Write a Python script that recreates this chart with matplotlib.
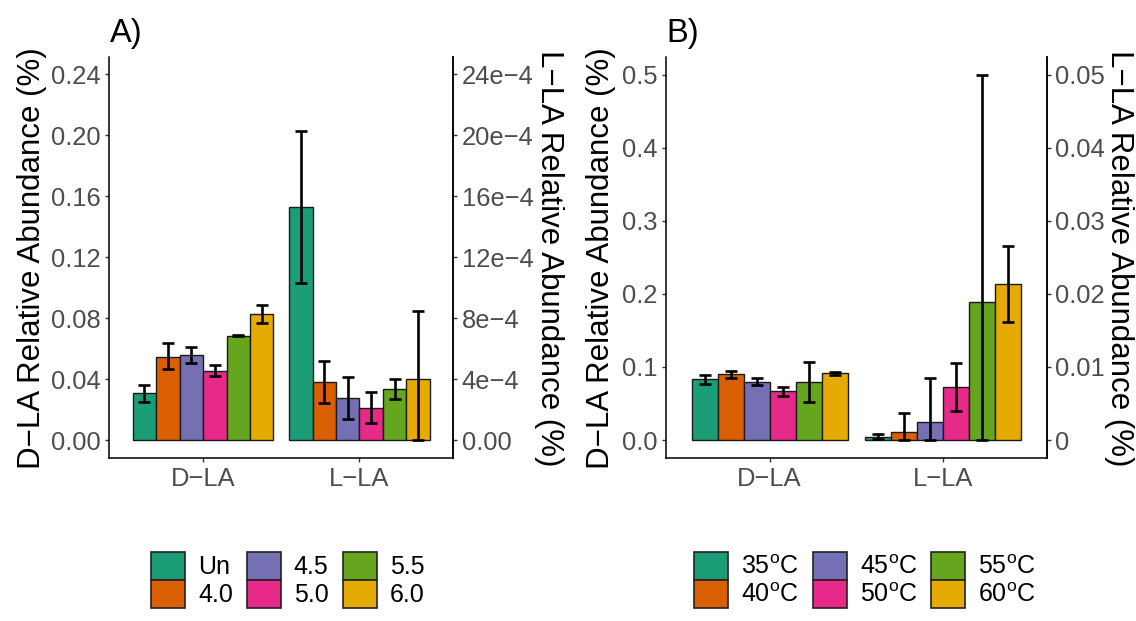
import matplotlib
matplotlib.use('Agg')
import matplotlib.pyplot as plt
from matplotlib.patches import Patch
import numpy as np

plt.rcParams['font.family'] = ['Liberation Sans', 'DejaVu Sans']
plt.rcParams['mathtext.fontset'] = 'custom'
plt.rcParams['mathtext.rm'] = 'Liberation Sans'
plt.rcParams['mathtext.it'] = 'Liberation Sans:italic'

categories = ['D−LA', 'L−LA']
colors = ['#1B9E77', '#D95F02', '#7570B3', '#E7298A', '#66A61E', '#E6AB02']

# ---- Panel A (pH) ----
a_labels = ['Un', '4.0', '4.5', '5.0', '5.5', '6.0']
a_dla = [0.0307, 0.0548, 0.0557, 0.0454, 0.0686, 0.0828]
a_dla_lo = [0.0252, 0.0465, 0.0504, 0.0421, 0.0682, 0.0767]
a_dla_hi = [0.0362, 0.0636, 0.0614, 0.0491, 0.0690, 0.0885]
a_lla = [0.001528, 0.000384, 0.000276, 0.000213, 0.000333, 0.000401]
a_lla_lo = [0.001030, 0.000245, 0.000136, 0.000110, 0.000267, 0.0]
a_lla_hi = [0.002027, 0.000519, 0.000416, 0.000318, 0.000401, 0.000846]
a_scale = 100
a_left_ticks = [0.00, 0.04, 0.08, 0.12, 0.16, 0.20, 0.24]
a_right_ticks = [0, 4e-4, 8e-4, 12e-4, 16e-4, 20e-4, 24e-4]
a_right_labels = ['0.00', '4e−4', '8e−4', '12e−4', '16e−4', '20e−4', '24e−4']

# ---- Panel B (temperature) ----
b_labels = ['35$^{\\mathrm{o}}$C', '40$^{\\mathrm{o}}$C', '45$^{\\mathrm{o}}$C',
            '50$^{\\mathrm{o}}$C', '55$^{\\mathrm{o}}$C', '60$^{\\mathrm{o}}$C']
b_dla = [0.0833, 0.0906, 0.0801, 0.0672, 0.0796, 0.0915]
b_dla_lo = [0.0769, 0.0855, 0.0750, 0.0608, 0.0517, 0.0892]
b_dla_hi = [0.0892, 0.0947, 0.0846, 0.0732, 0.1075, 0.0929]
b_lla = [0.00046, 0.00105, 0.00247, 0.00723, 0.01885, 0.02136]
b_lla_lo = [0.00008, 0.0, 0.0, 0.00403, 0.0, 0.01615]
b_lla_hi = [0.00082, 0.00375, 0.00846, 0.01052, 0.0500, 0.02653]
b_scale = 10
b_left_ticks = [0.0, 0.1, 0.2, 0.3, 0.4, 0.5]
b_right_ticks = [0, 0.01, 0.02, 0.03, 0.04, 0.05]
b_right_labels = ['0', '0.01', '0.02', '0.03', '0.04', '0.05']

W, H = 1136, 621
fig = plt.figure(figsize=(W / 100, H / 100), dpi=100)

TICK_FS = 18.4
LAB_FS = 22.5
TAG_FS = 23.5
GREY = '#4D4D4D'
BAR_W = 0.15

# axes rectangles in pixels
A_L, A_R = 109.3, 453.3
B_L, B_R = 665.8, 1046.7
TOP, BOT = 57.3, 458.3
Y_MID = 1 - (TOP + BOT) / 2 / H


def panel(rect, dla, dlo, dhi, lla, llo, lhi, scale, lticks, lfmt, rticks, rlabels,
          ylim, title, title_x, lab_left_x, lab_right_x):
    ax = fig.add_axes(rect)
    x0 = np.arange(1, len(categories) + 1)
    n = len(dla)
    offs = (np.arange(n) - (n - 1) / 2) * BAR_W
    for i in range(n):
        vals = np.array([dla[i], lla[i] * scale])
        lo = np.array([dlo[i], llo[i] * scale])
        hi = np.array([dhi[i], lhi[i] * scale])
        xs = x0 + offs[i]
        ax.bar(xs, vals, width=BAR_W, color=colors[i], edgecolor='#1a1a1a', linewidth=1.0, zorder=2)
        ax.errorbar(xs, vals, yerr=[vals - lo, hi - vals], fmt='none', ecolor='black',
                    elinewidth=1.9, capsize=4.3, capthick=1.9, zorder=3)
    ax.set_xlim(0.4, 2.6)
    ax.set_ylim(*ylim)
    ax.set_xticks(x0)
    ax.set_xticklabels(categories)
    ax.set_yticks(lticks)
    ax.set_yticklabels([lfmt.format(t) for t in lticks])
    ax.spines['top'].set_visible(False)
    for s in ['left', 'bottom', 'right']:
        ax.spines[s].set_linewidth(1.1)
        ax.spines[s].set_color('black')
    ax.tick_params(axis='both', labelsize=TICK_FS, labelcolor=GREY, color='#333333',
                   length=3.1, width=1.0, pad=3.0)
    ax.set_ylabel('D−LA Relative Abundance (%)', fontsize=LAB_FS)
    ax.yaxis.set_label_coords(lab_left_x / W, Y_MID, transform=fig.transFigure)
    sec = ax.secondary_yaxis('right', functions=(lambda y: y / scale, lambda y: y * scale))
    sec.set_yticks(rticks)
    sec.set_yticklabels(rlabels)
    sec.spines['right'].set_linewidth(1.1)
    sec.tick_params(axis='y', labelsize=TICK_FS, labelcolor=GREY, color='#333333',
                    length=3.1, width=1.0, pad=3.0)
    sec.set_ylabel('L−LA Relative Abundance (%)', fontsize=LAB_FS, rotation=270,
                   va='bottom')
    sec.yaxis.set_label_coords(lab_right_x / W, Y_MID, transform=fig.transFigure)
    fig.text(title_x / W, 1 - 41.7 / H, title, fontsize=TAG_FS, ha='left', va='baseline')
    return ax


panel([A_L / W, 1 - BOT / H, (A_R - A_L) / W, (BOT - TOP) / H], a_dla, a_dla_lo, a_dla_hi,
      a_lla, a_lla_lo, a_lla_hi, a_scale, a_left_ticks, '{:.2f}',
      a_right_ticks, a_right_labels, (-0.0119, 0.2512), 'A)', 110, 46.6, 533.5)
panel([B_L / W, 1 - BOT / H, (B_R - B_L) / W, (BOT - TOP) / H], b_dla, b_dla_lo, b_dla_hi,
      b_lla, b_lla_lo, b_lla_hi, b_scale, b_left_ticks, '{:.1f}',
      b_right_ticks, b_right_labels, (-0.025, 0.524), 'B)', 666.7, 615.5, 1103.5)


def legend(labels, x, y):
    handles = [Patch(facecolor=c, edgecolor='#222222', linewidth=1.2) for c in colors]
    fig.legend(handles, labels, ncol=3, loc='upper left', bbox_to_anchor=(x / W, 1 - y / H),
               frameon=False, fontsize=18, handlelength=1.36, handleheight=1.36,
               handletextpad=0.52, columnspacing=0.56, labelspacing=0.0,
               borderpad=0, borderaxespad=0)


legend(a_labels, 151, 551.7)
legend(b_labels, 694, 551.7)

fig.savefig('out.png', dpi=100)
